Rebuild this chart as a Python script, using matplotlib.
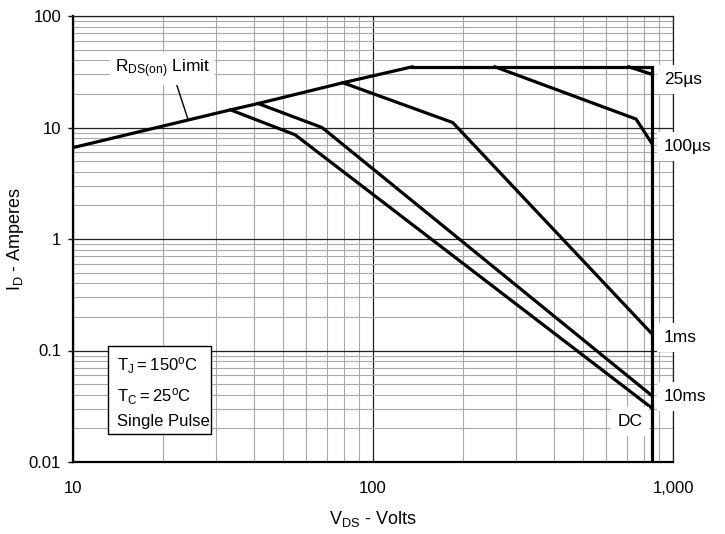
import numpy as np
import matplotlib
matplotlib.use('Agg')
import matplotlib.pyplot as plt
import matplotlib.patches as patches
from matplotlib.ticker import LogLocator, NullFormatter

plt.rcParams['font.family'] = ['Liberation Sans', 'DejaVu Sans']
plt.rcParams['mathtext.fontset'] = 'custom'
plt.rcParams['mathtext.rm'] = 'Liberation Sans'
plt.rcParams['mathtext.default'] = 'regular'

# safe operating area
rds_v = [10, 33.5, 41.4, 79.4, 135]
rds_i = [6.6, 14.4, 16.4, 25.2, 35]

limit_v = [135, 850, 850]
limit_i = [35, 35, 0.01]

dc_v = [33.5, 55, 850]
dc_i = [14.4, 8.6, 0.0305]
ms10_v = [41.4, 67.6, 850]
ms10_i = [16.4, 10.0, 0.0394]
ms1_v = [79.4, 184.5, 850]
ms1_i = [25.2, 11.07, 0.1415]
us100_v = [255, 753, 850]
us100_i = [35, 11.9, 7.2]
us25_v = [713, 850]
us25_i = [35, 30]

x_ticks = [10, 100, 1000]
x_tick_labels = ['10', '100', '1,000']
y_ticks = [0.01, 0.1, 1, 10, 100]
y_tick_labels = ['0.01', '0.1', '1', '10', '100']

fig = plt.figure(figsize=(7.25, 5.34), dpi=100)
ax = fig.add_axes([73/725, 72/534, 600/725, 446/534])
ax.set_xscale('log')
ax.set_yscale('log')
ax.set_xlim(10, 1000)
ax.set_ylim(0.01, 100)

ax.set_xticks(x_ticks, x_tick_labels)
ax.set_yticks(y_ticks, y_tick_labels)
for a in (ax.xaxis, ax.yaxis):
    a.set_minor_locator(LogLocator(base=10, subs=np.arange(2, 10)))
    a.set_minor_formatter(NullFormatter())
ax.tick_params(which='minor', length=0)
ax.tick_params(axis='x', which='major', length=0, pad=14, labelsize=12)
ax.tick_params(axis='y', which='major', length=3.6, width=1, pad=5, labelsize=12)
ax.grid(True, which='minor', color='#a8a8a8', lw=0.8)
ax.grid(True, which='major', color='#202020', lw=0.9)
ax.set_axisbelow(True)

for side in ('left', 'bottom'):
    ax.spines[side].set_linewidth(1.6)
for side in ('top', 'right'):
    ax.spines[side].set_linewidth(0.9)
    ax.spines[side].set_color('#202020')

lw = 2.3
for v, i in [(rds_v, rds_i), (limit_v, limit_i), (dc_v, dc_i), (ms10_v, ms10_i),
             (ms1_v, ms1_i), (us100_v, us100_i), (us25_v, us25_i)]:
    ax.plot(v, i, color='black', lw=lw, solid_joinstyle='miter', zorder=3)

box = dict(facecolor='white', edgecolor='none', boxstyle='square,pad=0.4')
for txt, x, y in [('25µs', 933, 26.7), ('100µs', 933, 6.7), ('1ms', 933, 0.13),
                  ('10ms', 933, 0.0386)]:
    ax.text(x, y, txt, fontsize=12.5, ha='left', va='center', bbox=box,
            zorder=5, clip_on=False)
ax.text(719, 0.023, 'DC', fontsize=12.5, ha='center', va='center', bbox=box,
        zorder=5, clip_on=False)

# R_DS(on) label with leader line
ax.plot([21.9, 24.2], [26.7, 11.7], color='black', lw=1, zorder=3)
ax.text(0.07, 0.882, r'$R_{DS(on)}$ Limit', transform=ax.transAxes, fontsize=12.5,
        ha='left', va='center', zorder=5,
        bbox=dict(facecolor='white', edgecolor='none', boxstyle='square,pad=0.3'))

# conditions box
rect = patches.Rectangle((0.0583, 0.0628), 0.1717, 0.197, transform=ax.transAxes,
                         facecolor='white', edgecolor='black', lw=1, zorder=4)
ax.add_patch(rect)
ax.text(0.0733, 0.215, r'$T_J = 150^oC$', transform=ax.transAxes, fontsize=12,
        va='center', zorder=5)
ax.text(0.0733, 0.146, r'$T_C = 25^oC$', transform=ax.transAxes, fontsize=12,
        va='center', zorder=5)
ax.text(0.0733, 0.0897, 'Single Pulse', transform=ax.transAxes, fontsize=12,
        va='center', zorder=5)

ax.set_xlabel(r'$V_{DS}$ - Volts', fontsize=13, labelpad=9)
ax.set_ylabel(r'$I_D$ - Amperes', fontsize=13, labelpad=2)

fig.savefig('out.png', dpi=100)
